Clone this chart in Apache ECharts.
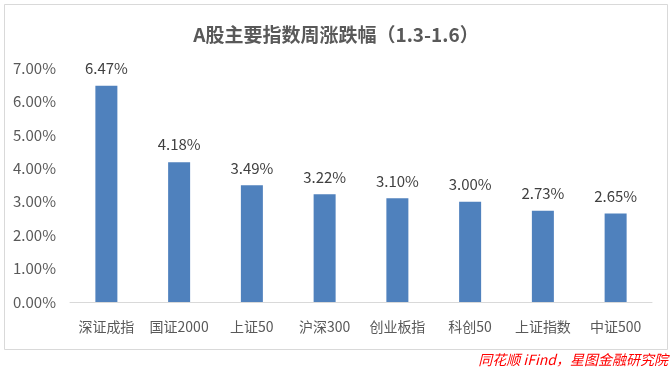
<!DOCTYPE html>
<html><head><meta charset="utf-8">
<script src="https://cdn.jsdelivr.net/npm/echarts@6/dist/echarts.min.js"></script>
<style>html,body{margin:0;padding:0;background:#fff}#c{width:672px;height:371px}</style>
</head><body><div id="c"></div>
<script>
const categories = ['深证成指','国证2000','上证50','沪深300','创业板指','科创50','上证指数','中证500'];
const values = [6.47, 4.18, 3.49, 3.22, 3.10, 3.00, 2.73, 2.65];
const yTicks = [0,1,2,3,4,5,6,7];
const font = '"Microsoft YaHei","Noto Sans CJK SC",sans-serif';
const chart = echarts.init(document.getElementById('c'));
chart.setOption({
  animation:false,
  backgroundColor:'#fff',
  title:{text:'A股主要指数周涨跌幅（1.3-1.6）',left:'center',top:20,
    textStyle:{fontFamily:font,fontSize:19,fontWeight:'bold',color:'#595959'}},
  graphic:[
    {type:'rect',shape:{x:4.5,y:4.5,width:663,height:345},style:{fill:'none',stroke:'#d9d9d9',lineWidth:1},z:-1},
    {type:'text',right:4,top:353,style:{text:'同花顺 iFind，星图金融研究院',fill:'#ff0000',fontStyle:'italic',fontSize:14,fontFamily:font}}
  ],
  grid:{left:70,right:20,top:68,bottom:69},
  xAxis:{type:'category',data:categories,
    axisLine:{lineStyle:{color:'#d9d9d9'}},axisTick:{show:false},
    axisLabel:{color:'#595959',fontSize:14,fontFamily:font,margin:18,interval:0}},
  yAxis:{type:'value',min:0,max:7,interval:1,
    splitLine:{show:false},axisLine:{show:false},axisTick:{show:false},
    axisLabel:{color:'#595959',fontSize:15,fontFamily:font,margin:14,formatter:v=>v.toFixed(2)+'%'}},
  series:[{type:'bar',data:values,barWidth:22,itemStyle:{color:'#4f81bd'},
    label:{show:true,position:'top',distance:10,color:'#404040',fontSize:15,fontFamily:font,formatter:p=>p.value.toFixed(2)+'%'}}]
});
</script></body></html>
